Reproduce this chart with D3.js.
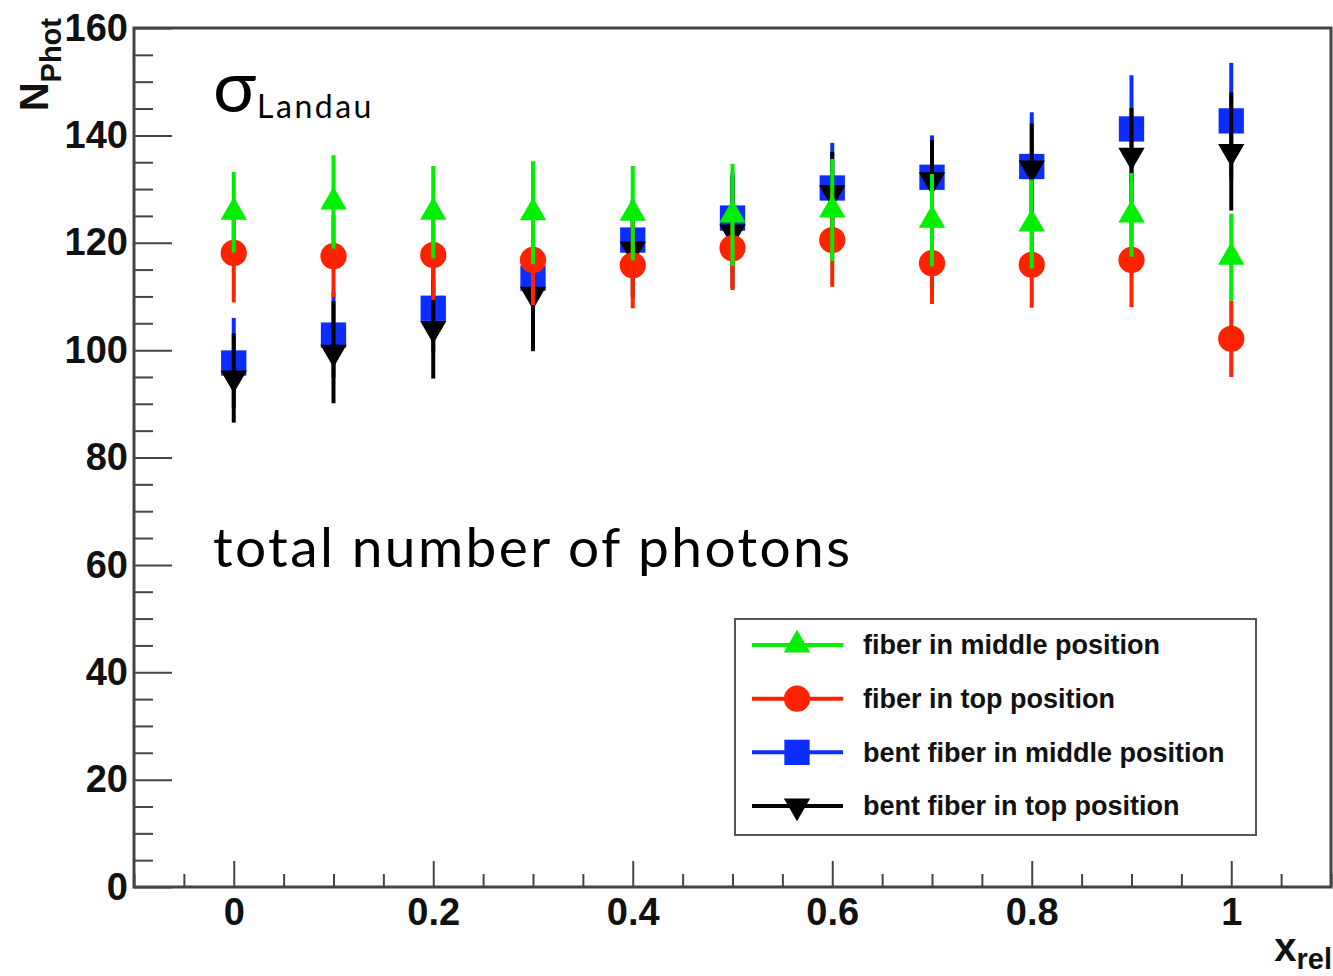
<!DOCTYPE html>
<html>
<head>
<meta charset="utf-8">
<script src="https://cdn.jsdelivr.net/npm/d3@7"></script>
<style>
  html, body { margin: 0; padding: 0; background: #fff; }
  svg { display: block; }
  .tick text { font-family: "Liberation Sans", Arial, sans-serif; font-weight: bold; }
</style>
</head>
<body>
<svg id="chart" width="1333" height="976"></svg>
<script>
// Relative position along the fiber
const xRel = [0, 0.1, 0.2, 0.3, 0.4, 0.5, 0.6, 0.7, 0.8, 0.9, 1.0];

// Total number of photons (value, error) per configuration
const fiberMiddle     = [125.7, 127.6, 125.7, 125.6, 125.5, 125.2, 126.1, 124.2, 123.5, 125.2, 117.3];
const fiberMiddleErr  = [7.5, 8.7, 8.6, 9.6, 8.8, 9.5, 9.5, 8.6, 8.3, 7.8, 8.1];
const fiberTop        = [118.1, 117.5, 117.7, 116.8, 115.8, 119.0, 120.5, 116.2, 115.9, 116.8, 102.1];
const fiberTopErr     = [9.2, 7.6, 8.4, 8.4, 8.0, 7.8, 8.7, 7.6, 8.0, 8.8, 7.1];
const bentMiddle      = [97.6, 102.8, 107.8, 113.4, 120.5, 124.6, 130.2, 132.2, 134.2, 141.2, 142.7];
const bentMiddleErr   = [8.4, 8.0, 8.2, 8.4, 7.6, 8.4, 8.4, 7.8, 10.1, 10.0, 10.8];
const bentTop         = [94.8, 99.6, 104.0, 110.4, 118.8, 122.0, 129.3, 131.7, 133.9, 136.3, 137.0];
const bentTopErr      = [8.3, 9.5, 9.3, 10.6, 9.0, 10.5, 7.6, 7.4, 8.3, 8.8, 11.0];

const yMajorTicks = [0, 20, 40, 60, 80, 100, 120, 140, 160];
const xMajorTicks = [0, 0.2, 0.4, 0.6, 0.8, 1.0];

const seriesNames = [
  "fiber in middle position",
  "fiber in top position",
  "bent fiber in middle position",
  "bent fiber in top position"
];

const svg = d3.select("#chart");

const frame = { left: 134, right: 1331, top: 28, bottom: 887 };
const x = d3.scaleLinear().domain([-0.1, 1.1]).range([frame.left, frame.right]);
const y = d3.scaleLinear().domain([0, 160]).range([frame.bottom, frame.top]);

const axisColor = "#444";

// minor ticks
const yMinor = d3.range(0, 160.001, 5).filter(v => v % 20 !== 0);
const xMinor = d3.range(-0.1, 1.1001, 0.05).map(v => +v.toFixed(2)).filter(v => Math.abs(v * 5 - Math.round(v * 5)) > 1e-6);

function styleAxis(g) {
  g.select(".domain").remove();
  g.selectAll(".tick line").attr("stroke", axisColor).attr("stroke-width", 2);
  g.selectAll(".tick text").attr("fill", "#111");
}

svg.append("g")
  .attr("transform", `translate(${frame.left},0)`)
  .call(d3.axisLeft(y).tickValues(yMinor).tickSize(-19).tickFormat(""))
  .call(styleAxis);

svg.append("g")
  .attr("transform", `translate(${frame.left},0)`)
  .call(d3.axisLeft(y).tickValues(yMajorTicks).tickSize(-38).tickPadding(6).tickFormat(d3.format("d")))
  .call(styleAxis)
  .call(g => g.selectAll(".tick text").attr("font-size", 38));

svg.append("g")
  .attr("transform", `translate(0,${frame.bottom})`)
  .call(d3.axisBottom(x).tickValues(xMinor).tickSize(-13).tickFormat(""))
  .call(styleAxis);

svg.append("g")
  .attr("transform", `translate(0,${frame.bottom})`)
  .call(d3.axisBottom(x).tickValues(xMajorTicks).tickSize(-26).tickPadding(11).tickFormat(d => d3.format("~g")(d)))
  .call(styleAxis)
  .call(g => g.selectAll(".tick text").attr("font-size", 38));

// frame
svg.append("rect")
  .attr("x", frame.left).attr("y", frame.top)
  .attr("width", frame.right - frame.left).attr("height", frame.bottom - frame.top)
  .attr("fill", "none").attr("stroke", axisColor).attr("stroke-width", 3);

// series definitions (drawing order: blue, black, red, green)
const series = [
  { name: seriesNames[2], vals: bentMiddle,  errs: bentMiddleErr,  color: "#0b2dff", shape: "square" },
  { name: seriesNames[3], vals: bentTop,     errs: bentTopErr,     color: "#000000", shape: "down" },
  { name: seriesNames[1], vals: fiberTop,    errs: fiberTopErr,    color: "#ff2200", shape: "circle" },
  { name: seriesNames[0], vals: fiberMiddle, errs: fiberMiddleErr, color: "#00ee00", shape: "up" }
];

function markerPath(shape) {
  if (shape === "square") return d3.symbol(d3.symbolSquare, 640)();
  if (shape === "circle") return d3.symbol(d3.symbolCircle, 540)();
  return d3.symbol(d3.symbolTriangle, 300)();
}
function markerRot(shape) { return shape === "down" ? 180 : 0; }

const plot = svg.append("g");
series.forEach(s => {
  const g = plot.append("g");
  const pts = xRel.map((xv, i) => ({ x: xv, v: s.vals[i], e: s.errs[i] }));
  g.selectAll("line.err").data(pts).join("line")
    .attr("class", "err")
    .attr("x1", d => x(d.x)).attr("x2", d => x(d.x))
    .attr("y1", d => y(d.v + d.e)).attr("y2", d => y(d.v - d.e))
    .attr("stroke", s.color).attr("stroke-width", 4);
  g.selectAll("path.mk").data(pts).join("path")
    .attr("class", "mk")
    .attr("d", markerPath(s.shape))
    .attr("transform", d => `translate(${x(d.x)},${y(d.v)}) rotate(${markerRot(s.shape)})`)
    .attr("fill", s.color);
});

// legend
const legend = svg.append("g");
legend.append("rect")
  .attr("x", 735).attr("y", 619).attr("width", 521).attr("height", 216)
  .attr("fill", "#fff").attr("stroke", "#555").attr("stroke-width", 2);

const legendOrder = [series[3], series[2], series[0], series[1]];
const legendY = d3.scalePoint().domain(legendOrder.map(d => d.name)).range([645, 806]);
legendOrder.forEach(s => {
  const ly = legendY(s.name);
  legend.append("line")
    .attr("x1", 752).attr("x2", 843).attr("y1", ly).attr("y2", ly)
    .attr("stroke", s.color).attr("stroke-width", 4);
  legend.append("path")
    .attr("d", markerPath(s.shape))
    .attr("transform", `translate(797,${ly}) rotate(${markerRot(s.shape)})`)
    .attr("fill", s.color);
  legend.append("text")
    .attr("x", 863).attr("y", ly).attr("dy", "0.35em")
    .attr("font-family", "'Liberation Sans', Arial, sans-serif")
    .attr("font-weight", "bold").attr("font-size", 27).attr("fill", "#111")
    .text(s.name);
});

// axis titles
const yTitle = svg.append("text")
  .attr("transform", "translate(48,18) rotate(-90)")
  .attr("text-anchor", "end")
  .attr("font-family", "'Liberation Sans', Arial, sans-serif")
  .attr("font-weight", "bold").attr("fill", "#111");
yTitle.append("tspan").attr("font-size", 40).text("N");
yTitle.append("tspan").attr("font-size", 29).attr("dy", 13).text("Phot");

const xTitle = svg.append("text")
  .attr("x", 1332).attr("y", 961)
  .attr("text-anchor", "end")
  .attr("font-family", "'Liberation Sans', Arial, sans-serif")
  .attr("font-weight", "bold").attr("fill", "#111");
xTitle.append("tspan").attr("font-size", 40).text("x");
xTitle.append("tspan").attr("font-size", 29).attr("dy", 8).text("rel");

// annotations
const sigma = svg.append("text")
  .attr("x", 213).attr("y", 112)
  .attr("font-family", "Lato, 'Open Sans', sans-serif").attr("fill", "#000");
sigma.append("tspan").attr("font-size", 72).text("σ");
sigma.append("tspan").attr("font-size", 32).attr("dy", 6).attr("dx", 1)
  .attr("letter-spacing", 2.5).text("Landau");

svg.append("text")
  .attr("x", 213).attr("y", 567)
  .attr("font-family", "Lato, 'Open Sans', sans-serif")
  .attr("font-size", 55).attr("letter-spacing", 2.4).attr("fill", "#000")
  .text("total number of photons");
</script>
</body>
</html>
